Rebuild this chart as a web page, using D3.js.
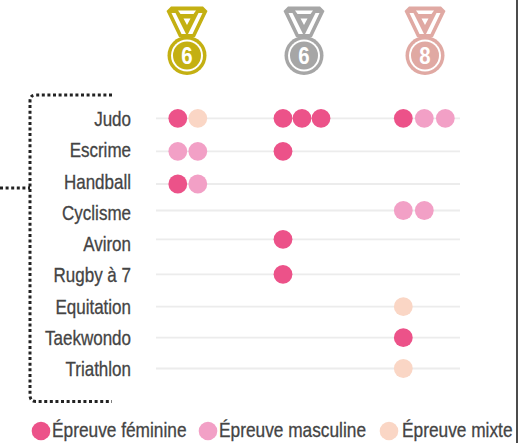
<!DOCTYPE html>
<html><head><meta charset="utf-8">
<script src="https://cdn.jsdelivr.net/npm/d3@7"></script>
<style>html,body{margin:0;padding:0;background:#fff}svg{display:block}</style></head>
<body><svg id="c" width="528" height="443"></svg>
<script>
const sports = ["Judo","Escrime","Handball","Cyclisme","Aviron","Rugby à 7","Equitation","Taekwondo","Triathlon"];
const medalKinds = ["or","argent","bronze"];
const medalCounts = [6,6,8];
const medalColors = ["#c4b012","#a6a6a6","#e0a9a3"];
const typeNames = ["Épreuve féminine","Épreuve masculine","Épreuve mixte"];
const typeColors = ["#ec5289","#f2a0c6","#fad6c5"];
// one row per sport; for each medal, the ordered event types (indices into typeNames)
const orMedals     = [[0,2],[1,1],[0,1],[],[],[],[],[],[]];
const argentMedals = [[0,0,0],[0],[],[],[0],[0],[],[],[]];
const bronzeMedals = [[0,1,1],[],[],[1,1],[],[],[2],[0],[2]];
const medalData = [orMedals,argentMedals,bronzeMedals];

const svg = d3.select("#c");
const fontName = "Liberation Sans";
const textColor = "#444";
// the reference's rows are hand-placed, so the row scale is an explicit ordinal range
const rowY = d3.scaleOrdinal().domain(sports).range([118.3,151.3,184,210.5,239.3,274.3,306.7,337.7,368.5]);
const labelY = d3.scalePoint().domain(sports).range([126,376]);
const medalX = d3.scaleOrdinal().domain(medalKinds).range([187,304,425]);
const dotStart = d3.scaleOrdinal().domain(medalKinds).range([177.8,283,403.3]);
const dotStep = d3.scaleOrdinal().domain(medalKinds).range([20,19,21]);

svg.append("g").selectAll("line").data(sports).join("line")
  .attr("x1",156).attr("x2",460).attr("y1",d=>rowY(d)).attr("y2",d=>rowY(d))
  .attr("stroke","#ececec").attr("stroke-width",1.8);

svg.append("g").selectAll("text").data(sports).join("text")
  .attr("transform",d=>`translate(131,${labelY(d)}) scale(0.85,1)`)
  .attr("text-anchor","end")
  .attr("font-family",fontName).attr("font-size",20)
  .attr("fill",textColor).attr("stroke",textColor).attr("stroke-width",0.3)
  .text(d=>d);

medalKinds.forEach((m,mi)=>{
  const rows = sports.flatMap((s,si)=>medalData[mi][si].map((t,k)=>({s,t,k})));
  svg.append("g").selectAll("circle").data(rows).join("circle")
    .attr("cx",d=>dotStart(m)+dotStep(m)*d.k).attr("cy",d=>rowY(d.s)).attr("r",9.4)
    .attr("fill",d=>typeColors[d.t]);
  const g = svg.append("g").attr("transform",`translate(${medalX(m)},0)`);
  const c = medalColors[mi];
  g.append("path").attr("d",
    "M-20.5,11 L-16,6.5 L16,6.5 L20.5,11 L8,37 L-8,37 Z "+
    "M-9,10.5 L9,10.5 L6.5,14 L-6.5,14 Z "+
    "M-15.5,13 L-11.5,13 L-1,34 L-5.5,34 Z "+
    "M15.5,13 L11.5,13 L1,34 L5.5,34 Z "+
    "M-3.5,18.5 L3.5,18.5 L0,25 Z")
    .attr("fill",c).attr("fill-rule","evenodd");
  g.append("circle").attr("cy",55.5).attr("r",19.5).attr("fill",c);
  g.append("circle").attr("cy",55.5).attr("r",16).attr("fill","#fff");
  g.append("circle").attr("cy",55.5).attr("r",14).attr("fill",c);
  g.append("text").attr("transform","translate(0,64) scale(0.85,1)").attr("text-anchor","middle")
    .attr("font-family",fontName).attr("font-weight","bold")
    .attr("font-size",24).attr("fill","#fff").text(medalCounts[mi]);
});

const bracket = d3.path();
bracket.moveTo(112,95); bracket.lineTo(36,95); bracket.quadraticCurveTo(30,95,30,101);
bracket.lineTo(30,395); bracket.quadraticCurveTo(30,401.5,36,401.5); bracket.lineTo(112,401.5);
bracket.moveTo(0,188); bracket.lineTo(30,188);
svg.append("path").attr("d",bracket.toString()).attr("fill","none")
  .attr("stroke","#222").attr("stroke-width",3).attr("stroke-dasharray","3 2.6");

const legendDot = d3.scaleOrdinal().domain(typeNames).range([41,208,389]);
const legendText = d3.scaleOrdinal().domain(typeNames).range([52,219,402]);
const legend = svg.append("g");
legend.selectAll("circle").data(typeNames).join("circle")
  .attr("cx",d=>legendDot(d)).attr("cy",431).attr("r",9.3).attr("fill",(d,i)=>typeColors[i]);
legend.selectAll("text").data(typeNames).join("text")
  .attr("transform",d=>`translate(${legendText(d)},437) scale(0.865,1)`)
  .attr("font-family",fontName).attr("font-size",20)
  .attr("fill",textColor).attr("stroke",textColor).attr("stroke-width",0.3).text(d=>d);

svg.append("line").attr("x1",517).attr("x2",517).attr("y1",0).attr("y2",443).attr("stroke","#111").attr("stroke-width",1.5);
</script></body></html>
